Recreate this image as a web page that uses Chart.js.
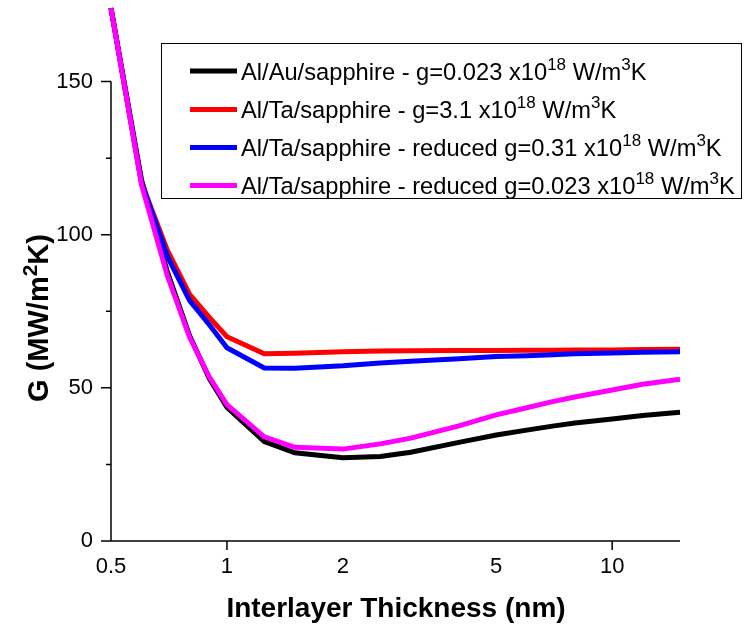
<!DOCTYPE html>
<html>
<head>
<meta charset="utf-8">
<script src="https://cdn.jsdelivr.net/npm/chart.js@4.4.0/dist/chart.umd.min.js"></script>
<style>
  html, body { margin: 0; padding: 0; background: #fff; }
  #wrap { width: 744px; height: 628px; }
</style>
</head>
<body>
<div id="wrap"><canvas id="myChart" width="744" height="628"></canvas></div>
<script>
// interlayer thickness in nm (x values)
const thickness = [0.5, 0.6, 0.7, 0.8, 0.9, 1, 1.25, 1.5, 2, 2.5, 3, 4, 5, 6, 7, 8, 10, 12, 15]
// G in MW/m^2K for each curve
const auSapphire = [174, 118, 88, 67, 53, 43.6, 32.5, 28.8, 27.2, 27.6, 29.0, 32.2, 34.6, 36.2, 37.5, 38.5, 39.8, 41.0, 42.0]
const taSapphire = [174, 117, 95, 80.5, 73, 66.7, 61.1, 61.3, 61.8, 62.0, 62.1, 62.2, 62.2, 62.3, 62.3, 62.4, 62.4, 62.5, 62.6]
const taReduced031 = [174, 117, 93, 78.5, 70.6, 63.1, 56.5, 56.4, 57.2, 58.1, 58.7, 59.5, 60.2, 60.5, 60.8, 61.1, 61.4, 61.6, 61.8]
const taReduced0023 = [174, 116.3, 86.7, 66.5, 53.5, 44.5, 34.0, 30.6, 30.0, 31.7, 33.6, 37.6, 41.2, 43.5, 45.5, 47.0, 49.3, 51.2, 52.8]

const seriesLabels = [
  'Al/Au/sapphire - g=0.023 x10^{18} W/m^{3}K',
  'Al/Ta/sapphire - g=3.1 x10^{18} W/m^{3}K',
  'Al/Ta/sapphire - reduced g=0.31 x10^{18} W/m^{3}K',
  'Al/Ta/sapphire - reduced g=0.023 x10^{18} W/m^{3}K'
]
const seriesColors = ['#000000', '#ff0000', '#0000ff', '#ff00ff']

// tick labels
const xTicks = [0.5, 1, 2, 5, 10]
const xTickMarks = [1, 10]
const yTicks = [0, 50, 100, 150]
const yMinorTicks = [25, 75, 125]

const FONT = '"Liberation Sans", Arial, sans-serif'

// split 'a^{b}c' into normal / superscript parts
function parts (str) {
  const out = []
  const re = /\^\{(.*?)\}/g
  let last = 0
  let m
  while ((m = re.exec(str)) !== null) {
    if (m.index > last) out.push({ t: str.slice(last, m.index), sup: false })
    out.push({ t: m[1], sup: true })
    last = re.lastIndex
  }
  if (last < str.length) out.push({ t: str.slice(last), sup: false })
  return out
}

function richWidth (ctx, str, size, supSize, weight) {
  let w = 0
  parts(str).forEach(p => {
    ctx.font = weight + ' ' + (p.sup ? supSize : size) + 'px ' + FONT
    w += ctx.measureText(p.t).width
  })
  return w
}

function drawRich (ctx, str, x, y, size, supSize, rise, weight) {
  ctx.textAlign = 'left'
  ctx.textBaseline = 'alphabetic'
  parts(str).forEach(p => {
    ctx.font = weight + ' ' + (p.sup ? supSize : size) + 'px ' + FONT
    ctx.fillText(p.t, x, p.sup ? y - rise : y)
    x += ctx.measureText(p.t).width
  })
}

const decorations = {
  id: 'decorations',
  beforeDatasetsDraw (chart) {
    const ctx = chart.ctx
    const xs = chart.scales.x
    const ys = chart.scales.y
    const y0 = ys.getPixelForValue(0)
    ctx.save()
    ctx.strokeStyle = '#000'
    ctx.lineWidth = 1.5
    ctx.beginPath()
    ctx.moveTo(xs.left, y0)
    ctx.lineTo(xs.right, y0)
    ctx.moveTo(xs.left, y0)
    ctx.lineTo(xs.left, ys.getPixelForValue(150))
    yTicks.forEach(v => {
      const p = ys.getPixelForValue(v)
      ctx.moveTo(xs.left - 10, p)
      ctx.lineTo(xs.left, p)
    })
    yMinorTicks.forEach(v => {
      const p = ys.getPixelForValue(v)
      ctx.moveTo(xs.left - 5, p)
      ctx.lineTo(xs.left, p)
    })
    xTickMarks.forEach(v => {
      const p = xs.getPixelForValue(v)
      ctx.moveTo(p, y0)
      ctx.lineTo(p, y0 + 9)
    })
    ctx.stroke()
    ctx.restore()
  },
  afterDraw (chart) {
    const ctx = chart.ctx
    ctx.save()
    ctx.fillStyle = '#000'

    // axis titles
    ctx.font = 'bold 28px ' + FONT
    ctx.textAlign = 'center'
    ctx.textBaseline = 'alphabetic'
    ctx.fillText('Interlayer Thickness (nm)', 396, 617)

    const yTitle = 'G (MW/m^{2}K)'
    const tw = richWidth(ctx, yTitle, 29, 21, 'bold')
    ctx.translate(48, 318)
    ctx.rotate(-Math.PI / 2)
    drawRich(ctx, yTitle, -tw / 2, 0, 29, 21, 11, 'bold')
    ctx.setTransform(1, 0, 0, 1, 0, 0)

    // legend box
    ctx.strokeStyle = '#000'
    ctx.lineWidth = 1
    ctx.strokeRect(161.5, 43.5, 580, 155)
    const rows = [71, 109.5, 147.5, 185.5]
    seriesLabels.forEach((lab, i) => {
      ctx.strokeStyle = seriesColors[i]
      ctx.lineWidth = 5
      ctx.beginPath()
      ctx.moveTo(190, rows[i])
      ctx.lineTo(237, rows[i])
      ctx.stroke()
      ctx.fillStyle = '#000'
      drawRich(ctx, lab, 241, rows[i] + 8.5, 23.7, 17, 10, 'normal')
    })
    ctx.restore()
  }
}

const seriesData = [auSapphire, taSapphire, taReduced031, taReduced0023]
const ctx = document.getElementById('myChart').getContext('2d')
const myChart = new Chart(ctx, {
  type: 'line',
  data: {
    labels: thickness,
    datasets: seriesData.map((vals, i) => ({
      label: seriesLabels[i],
      data: thickness.map((x, j) => ({ x: x, y: vals[j] })),
      borderColor: seriesColors[i],
      backgroundColor: seriesColors[i],
      borderWidth: 5,
      pointRadius: 0,
      tension: 0,
      fill: false,
      clip: 10,
      order: 3 - i
    }))
  },
  options: {
    responsive: false,
    animation: false,
    devicePixelRatio: 1,
    layout: { padding: { top: 5, right: 64, left: 0, bottom: 0 } },
    plugins: {
      legend: { display: false },
      tooltip: { enabled: false }
    },
    scales: {
      x: {
        type: 'logarithmic',
        min: 0.5,
        max: 15,
        afterBuildTicks: s => { s.ticks = xTicks.map(v => ({ value: v })) },
        afterFit: s => {
          s.height = 87
          s.paddingLeft = 0
          s.paddingRight = 0
        },
        grid: { display: false, drawTicks: false },
        border: { display: false },
        ticks: {
          callback: v => String(v),
          autoSkip: false,
          maxRotation: 0,
          padding: 13,
          color: '#000',
          font: { family: FONT, size: 22 }
        }
      },
      y: {
        type: 'linear',
        min: 0,
        max: 175,
        afterBuildTicks: s => { s.ticks = yTicks.map(v => ({ value: v })) },
        afterFit: s => {
          s.width = 111
          s.paddingTop = 0
          s.paddingBottom = 0
        },
        grid: { display: false, drawTicks: false },
        border: { display: false },
        ticks: {
          padding: 18,
          color: '#000',
          font: { family: FONT, size: 22 }
        }
      }
    }
  },
  plugins: [decorations]
})
</script>
</body>
</html>
